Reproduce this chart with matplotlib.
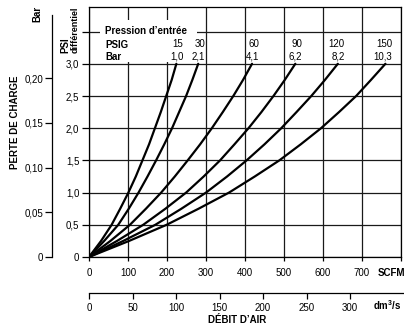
import matplotlib
matplotlib.use('Agg')
import matplotlib.pyplot as plt
from matplotlib.patches import Rectangle

plt.rcParams['font.family'] = ['Liberation Sans', 'DejaVu Sans']
plt.rcParams['mathtext.fontset'] = 'custom'
plt.rcParams['mathtext.bf'] = 'Liberation Sans:bold'
plt.rcParams['mathtext.rm'] = 'Liberation Sans'

# ---------------- data ----------------
psig = ['15', '30', '60', '90', '120', '150']
bar_in = ['1,0', '2,1', '4,1', '6,2', '8,2', '10,3']
# PSI differential levels at which the flow was read
dp_levels = [0, 0.25, 0.5, 0.75, 1.0, 1.25, 1.5, 1.75, 2.0, 2.25, 2.5, 2.75, 3.0]
# flow in SCFM for each inlet pressure
flow_15 = [0, 31, 58, 80, 101, 120, 137, 154, 169, 184, 198, 212, 224]
flow_30 = [0, 39, 75, 102, 127, 150, 172, 193, 213, 231, 249, 265, 280]
flow_60 = [0, 55, 105, 146, 185, 220, 253, 285, 315, 343, 370, 395, 418]
flow_90 = [0, 72, 139, 196, 249, 294, 336, 373, 409, 442, 473, 502, 529]
flow_120 = [0, 88, 170, 237, 300, 354, 404, 450, 493, 532, 570, 605, 638]
flow_150 = [0, 103, 199, 281, 359, 425, 488, 543, 595, 641, 685, 723, 760]
flows = [flow_15, flow_30, flow_60, flow_90, flow_120, flow_150]

psi_ticks = [0, 0.5, 1.0, 1.5, 2.0, 2.5, 3.0, 3.5]
psi_labels = ['0', '0,5', '1,0', '1,5', '2,0', '2,5', '3,0', '']
scfm_ticks = [0, 100, 200, 300, 400, 500, 600, 700, 800]
scfm_labels = ['0', '100', '200', '300', '400', '500', '600', '700', '']
bar_ticks = [0, 0.05, 0.10, 0.15, 0.20]
bar_labels = ['0', '0,05', '0,10', '0,15', '0,20']
dm3_ticks = [0, 50, 100, 150, 200, 250, 300]
dm3_labels = ['0', '50', '100', '150', '200', '250', '300']

# ---------------- layout helpers ----------------
W, H = 404, 329


def box(x0, y0, x1, y1):
    return [x0 / W, 1 - y1 / H, (x1 - x0) / W, (y1 - y0) / H]


fig = plt.figure(figsize=(W / 100, H / 100), dpi=100)


def ft(x, y, s, **kw):
    return fig.text(x / W, 1 - y / H, s, **kw)


FS = 7
# main axes
ax = fig.add_axes(box(89, 7, 401, 257))
ax.set_xlim(0, 800)
ax.set_ylim(0, (257 - 7) / 64.4)
ax.set_xticks(scfm_ticks)
ax.set_xticklabels(scfm_labels)
ax.set_yticks(psi_ticks)
ax.set_yticklabels(psi_labels)
ax.set_axisbelow(True)
ax.grid(True, color='#1a1a1a', lw=0.9)
for s in ax.spines.values():
    s.set_linewidth(0.9)
ax.tick_params(axis='y', direction='out', length=5, width=0.9, pad=2, labelsize=FS)
ax.tick_params(axis='x', direction='out', length=3, width=0.9, pad=5, labelsize=FS)

# white block behind legend header
ax.add_patch(Rectangle((100 / W, 1 - 62 / H), 97 / W, 42 / H, transform=fig.transFigure,
                       facecolor='white', edgecolor='none', zorder=1))

for f, p, b in zip(flows, psig, bar_in):
    ax.plot(f, dp_levels, color='black', lw=1.6, zorder=3,
            solid_capstyle='round', solid_joinstyle='round')
    ax.annotate(p, xy=(f[-1], dp_levels[-1]), xytext=(5, 14), textcoords='offset points',
                ha='right', va='center', fontsize=FS, zorder=4)
    ax.annotate(b, xy=(f[-1], dp_levels[-1]), xytext=(5, 5), textcoords='offset points',
                ha='right', va='center', fontsize=FS, zorder=4)

ft(105, 31, 'Pression d’entrée', ha='left', va='center', fontsize=FS, weight='bold')
ft(105, 45, 'PSIG', ha='left', va='center', fontsize=FS, weight='bold')
ft(105, 57, 'Bar', ha='left', va='center', fontsize=FS, weight='bold')

# Bar axis
axb = fig.add_axes(box(52, 15, 53, 257))
axb.set_facecolor('none')
for k in ['right', 'top', 'bottom']:
    axb.spines[k].set_visible(False)
axb.spines['left'].set_linewidth(0.9)
axb.set_ylim(0, 242 / 44.7 * 0.05)
axb.set_yticks(bar_ticks)
axb.set_yticklabels(bar_labels)
axb.set_xticks([])
axb.tick_params(axis='y', direction='out', length=5, width=0.9, pad=1.5, labelsize=FS)

# dm3/s axis
axd = fig.add_axes(box(89, 292, 404, 293))
axd.set_facecolor('none')
for k in ['right', 'top', 'left']:
    axd.spines[k].set_visible(False)
axd.spines['bottom'].set_linewidth(0.9)
axd.set_xlim(0, (404 - 89) / 0.87)
axd.set_xticks(dm3_ticks)
axd.set_xticklabels(dm3_labels)
axd.set_yticks([])
axd.tick_params(axis='x', direction='out', length=4, width=0.9, pad=3, labelsize=FS)

# labels
ft(378, 273, 'SCFM', ha='left', va='center', fontsize=FS, weight='bold')
ft(373, 305, r'dm$^{\mathbf{3}}$/s', ha='left', va='center', fontsize=FS, weight='bold')
ft(237, 320, 'DÉBIT D’AIR', ha='center', va='center', fontsize=FS, weight='bold')
ft(15, 122, 'PERTE DE CHARGE', ha='center', va='center', rotation=90, fontsize=FS, weight='bold')
ft(37.5, 14, 'Bar', ha='center', va='center', rotation=90, fontsize=FS, weight='bold')
ft(65, 53, 'PSI', ha='center', va='bottom', rotation=90, fontsize=FS, weight='bold')
ft(75, 53, 'différentiel', ha='center', va='bottom', rotation=90, fontsize=6.5, weight='bold')

fig.savefig('out.png', dpi=100)
